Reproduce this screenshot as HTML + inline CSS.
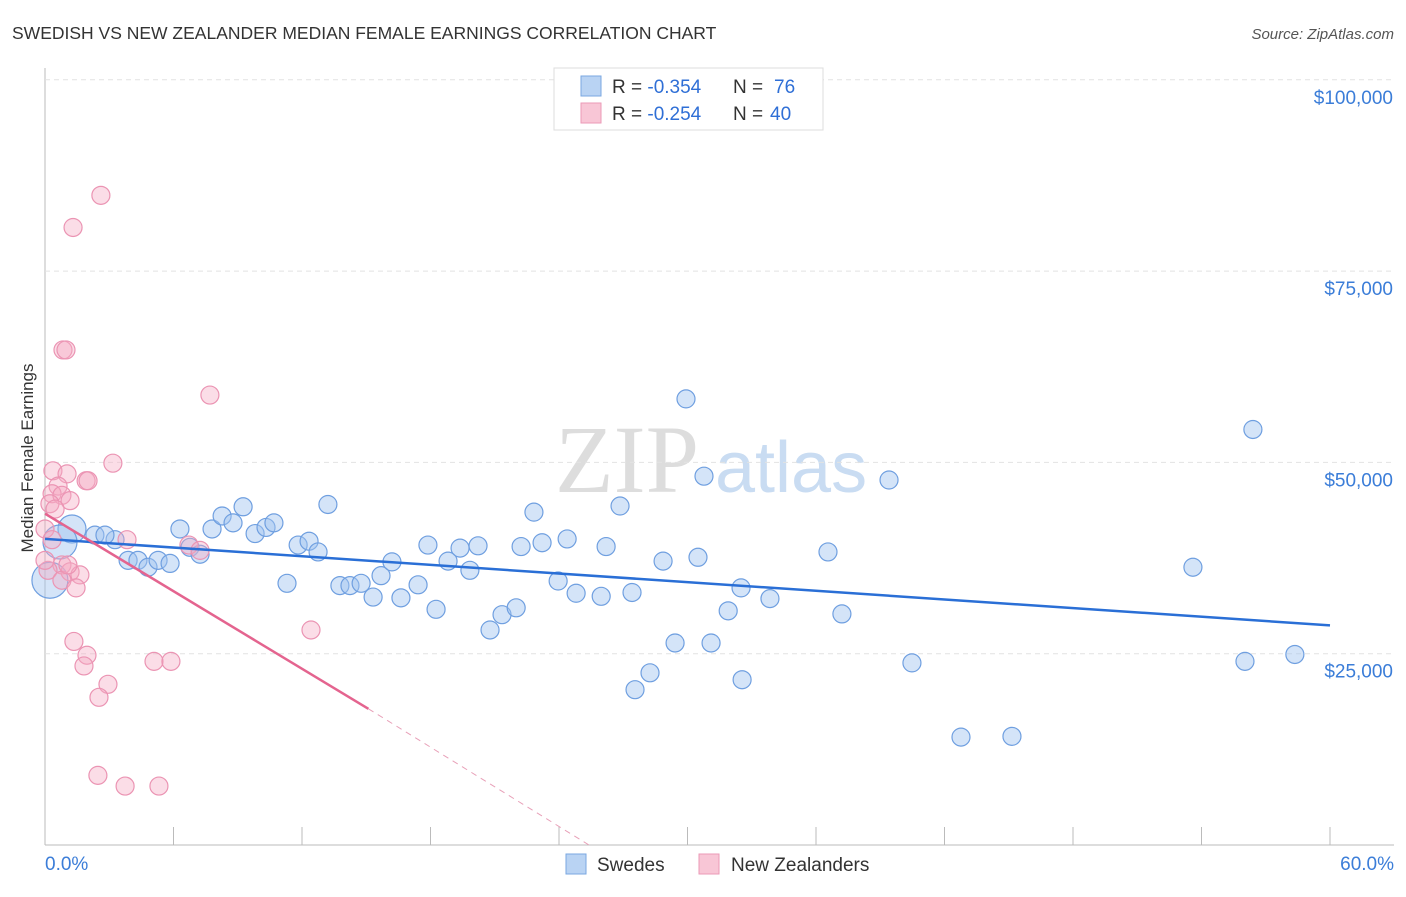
<!DOCTYPE html>
<html><head><meta charset="utf-8"><style>
body{margin:0;background:#fff;font-family:"Liberation Sans",sans-serif}
</style></head><body>
<svg id="c" width="1406" height="892" xmlns="http://www.w3.org/2000/svg">
<text x="12" y="39" font-size="17.5" fill="#333">SWEDISH VS NEW ZEALANDER MEDIAN FEMALE EARNINGS CORRELATION CHART</text>
<text x="1394" y="39" font-size="15" fill="#555" font-style="italic" text-anchor="end">Source: ZipAtlas.com</text>
<text x="555" y="492" font-size="96" fill="#ddd" font-family="Liberation Serif">ZIP</text>
<text x="715" y="492" font-size="72" fill="#c9dcf2">atlas</text>
<text x="33" y="458" font-size="17" fill="#333" text-anchor="middle" transform="rotate(-90 33 458)">Median Female Earnings</text>
<g id="grid"></g><g id="pts"></g><g id="lines"></g>
<g>
<rect x="554" y="68" width="269" height="62" fill="#fff" stroke="#ddd"/>
<rect x="581" y="76" width="20" height="20" fill="#b9d3f3" stroke="#7aa7e0"/>
<rect x="581" y="103" width="20" height="20" fill="#f8c6d6" stroke="#eb9ab7"/>
<text x="612" y="93" font-size="19" fill="#333">R = <tspan fill="#2f6fd6">-0.354</tspan></text>
<text x="733" y="93" font-size="19" fill="#333">N = </text>
<text x="774" y="93" font-size="19" fill="#2f6fd6">76</text>
<text x="612" y="120" font-size="19" fill="#333">R = <tspan fill="#2f6fd6">-0.254</tspan></text>
<text x="733" y="120" font-size="19" fill="#333">N = </text>
<text x="770" y="120" font-size="19" fill="#2f6fd6">40</text>
</g>
<g>
<rect x="566" y="854" width="20" height="20" fill="#b9d3f3" stroke="#7aa7e0"/>
<text x="597" y="871" font-size="19" fill="#333">Swedes</text>
<rect x="699" y="854" width="20" height="20" fill="#f8c6d6" stroke="#eb9ab7"/>
<text x="731" y="871" font-size="19" fill="#333">New Zealanders</text>
</g>
</svg>
<script>
const yTicks=[25000,50000,75000,100000];
const yTickLabels=["$25,000","$50,000","$75,000","$100,000"];
const xTickVals=[0,6,12,18,24,30,36,42,48,54,60];
const swedesX=[1.26,0.7,0.23,2.33,3.27,2.8,3.88,4.34,4.81,5.28,5.84,6.3,6.77,7.24,7.8,8.27,8.78,9.25,9.81,10.32,10.69,11.3,11.82,12.33,12.75,13.21,13.77,14.24,14.76,15.32,15.69,16.2,16.62,17.42,17.88,18.26,18.82,19.38,19.84,20.22,20.78,21.34,22.0,22.23,22.83,23.21,23.96,24.38,24.8,25.97,26.2,26.85,27.41,27.55,28.25,28.86,29.42,29.93,30.49,30.77,31.1,31.9,32.5,32.55,33.85,36.56,37.21,39.41,40.48,42.77,45.15,53.6,56.03,56.4,58.36];
const swedesY=[41300,39600,34600,40500,39900,40500,37200,37200,36300,37200,36800,41300,38900,38000,41300,43000,42100,44200,40700,41500,42100,34200,39200,39700,38300,44500,33900,33900,34200,32400,35200,37000,32300,34000,39200,30800,37100,38800,35900,39100,28100,30100,31000,39000,43500,39500,34500,40000,32900,32500,39000,44300,33000,20300,22500,37100,26400,58300,37600,48200,26400,30600,33600,21600,32200,38300,30200,47700,23800,14100,14200,36300,24000,54300,24900];
const swedesR=[14,17,18,9,9,9,9,9,9,9,9,9,9,9,9,9,9,9,9,9,9,9,9,9,9,9,9,9,9,9,9,9,9,9,9,9,9,9,9,9,9,9,9,9,9,9,9,9,9,9,9,9,9,9,9,9,9,9,9,9,9,9,9,9,9,9,9,9,9,9,9,9,9,9,9];
const nzX=[2.61,1.31,0.84,0.98,7.7,3.17,0.37,1.03,1.92,2.01,0.61,0.33,0.79,1.17,0.23,0.47,0,3.83,6.72,7.24,0.79,0.14,1.17,1.63,0.79,1.45,1.35,1.96,1.82,12.42,5.09,5.88,2.94,2.52,2.47,3.74,5.32,0.33,1.07,0];
const nzY=[84900,80700,64700,64700,58800,49900,48900,48500,47600,47600,46900,45900,45700,45000,44600,43900,41300,39900,39200,38500,36600,35900,35700,35300,34600,33600,26600,24800,23400,28100,24000,24000,21000,19300,9100,7700,7700,39900,36600,37200];
const blueTrend=[40000,28700];
const pinkTrend=[43300,17800,0];
const pinkTrendX=[0,15.1,25.4];
const X=v=>45+v/60*1285, Y=v=>845-v/25000*191.3;
const NS="http://www.w3.org/2000/svg";
function mk(t,a,p){const e=document.createElementNS(NS,t);for(const k in a)e.setAttribute(k,a[k]);p.appendChild(e);return e;}
const grid=document.getElementById('grid');
mk('line',{x1:45,y1:845,x2:1394,y2:845,stroke:'#bbb'},grid);
mk('line',{x1:45,y1:68,x2:45,y2:845,stroke:'#bbb'},grid);
yTicks.forEach((v,i)=>{
 const l=mk('line',{x1:45,y1:Y(v),x2:1394,y2:Y(v),stroke:'#e2e2e2','stroke-dasharray':'5,4'},grid);
 
 
 const t=mk('text',{x:1393,y:Y(v)+24,'font-size':19,fill:'#3b7dd8','text-anchor':'end'},grid);
 t.textContent=yTickLabels[i];
 
 
});
xTickVals.forEach(v=>{
 const l=mk('line',{x1:X(v),y1:827,x2:X(v),y2:845,stroke:'#bbb'},grid);
 
 
});
let t=mk('text',{x:45,y:870,'font-size':19,fill:'#3b7dd8'},grid);t.textContent='0.0%';


t=mk('text',{x:1394,y:870,'font-size':19,fill:'#3b7dd8','text-anchor':'end'},grid);t.textContent='60.0%';


const pts=document.getElementById('pts');
swedesX.forEach((x,i)=>{
 const c=mk('circle',{cx:X(x),cy:Y(swedesY[i]),r:swedesR[i],fill:'rgba(160,196,240,0.45)',stroke:'#6f9fe0','stroke-width':1.2},pts);
 
 
});
nzX.forEach((x,i)=>{
 const c=mk('circle',{cx:X(x),cy:Y(nzY[i]),r:9,fill:'rgba(245,170,195,0.4)',stroke:'#eb94b3','stroke-width':1.2},pts);
 
 
});
const lines=document.getElementById('lines');
let l=mk('line',{x1:X(0),y1:Y(blueTrend[0]),x2:X(60),y2:Y(blueTrend[1]),stroke:'#2a6fd6','stroke-width':2.5},lines);


l=mk('line',{x1:X(pinkTrendX[0]),y1:Y(pinkTrend[0]),x2:X(pinkTrendX[1]),y2:Y(pinkTrend[1]),stroke:'#e4648f','stroke-width':2.5},lines);


l=mk('line',{x1:X(pinkTrendX[1]),y1:Y(pinkTrend[1]),x2:X(pinkTrendX[2]),y2:Y(pinkTrend[2]),stroke:'#e8a0b8','stroke-width':1,'stroke-dasharray':'6,5'},lines);


</script>
</body></html>
